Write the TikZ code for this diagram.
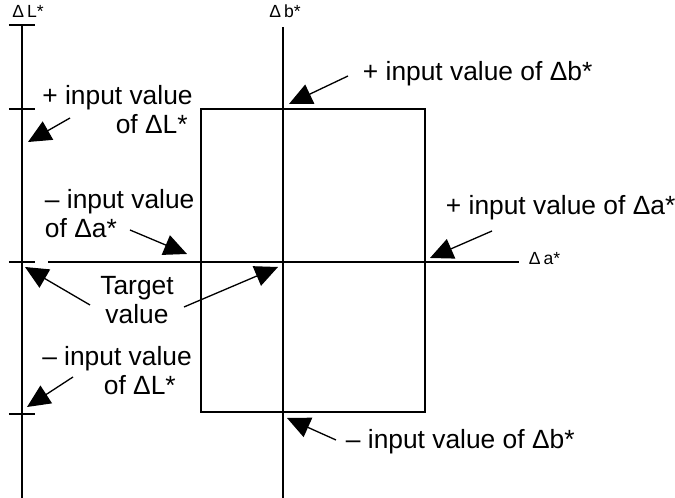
\documentclass[tikz,border=0pt]{standalone}
\usepackage{fontspec}
\setmainfont{Liberation Sans}
\usetikzlibrary{arrows.meta}

\begin{document}
\begin{tikzpicture}[line width=1.1pt,
  lbl/.style={font=\fontsize{15}{16.5}\selectfont, inner sep=0pt},
  axlbl/.style={font=\fontsize{10}{11}\selectfont, inner sep=0pt},
  ptr/.style={line width=0.75pt, -{Triangle[length=0.46cm, width=0.42cm]}}]
  \useasboundingbox (0,0) rectangle (13.5,9.96);
  % axes
  \coordinate (Lbot) at (0.44,0);
  \coordinate (Ltop) at (0.44,9.46);
  \coordinate (bbot) at (5.66,0);
  \coordinate (btop) at (5.66,9.42);
  \coordinate (aleft) at (0.96,4.72);
  \coordinate (aright) at (10.38,4.72);
  \draw (Lbot) -- (Ltop);
  \draw (bbot) -- (btop);
  \draw (aleft) -- (aright);
  \foreach \y in {9.46,7.78,4.72,1.68}
    \draw (0.18,\y) -- (0.70,\y);
  \draw (4.02,1.72) rectangle (8.50,7.78);
  \node[axlbl, anchor=base] (Lname) at (0.56,9.60) {Δ\,L*};
  \node[axlbl, anchor=base] (bname) at (5.70,9.60) {Δ\,b*};
  \node[axlbl, anchor=base west] (aname) at (10.56,4.66) {Δ\,a*};

  % labels
  \node[lbl, align=right] (plusL) at (2.35,7.76) {+ input value\\ of ΔL*\hspace*{0.1cm}};
  \node[lbl, anchor=base west] (plusb) at (7.24,8.34) {+ input value of Δb*};
  \node[lbl, align=left, anchor=west] (minusa) at (0.88,5.69) {– input value\\ of Δa*};
  \node[lbl, anchor=base west] (plusa) at (8.90,5.66) {+ input value of Δa*};
  \node[lbl, align=center] (target) at (2.74,3.96) {Target\\ value};
  \node[lbl, align=right] (minusL) at (2.34,2.54) {– input value\\ of ΔL*\hspace*{0.32cm}};
  \node[lbl, anchor=base west] (minusb) at (6.90,0.98) {– input value of Δb*};

  % pointers
  \coordinate (plusLtail) at (1.40,7.60);
  \coordinate (plusLtip) at (0.56,7.12);
  \coordinate (plusbtail) at (6.96,8.44);
  \coordinate (plusbtip) at (5.78,7.88);
  \coordinate (minusatail) at (2.60,5.36);
  \coordinate (minusatip) at (3.74,4.88);
  \coordinate (plusatail) at (9.84,5.34);
  \coordinate (plusatip) at (8.60,4.80);
  \coordinate (targettailA) at (1.80,3.86);
  \coordinate (targettipA) at (0.50,4.62);
  \coordinate (targettailB) at (3.68,3.82);
  \coordinate (targettipB) at (5.56,4.62);
  \coordinate (minusLtail) at (1.46,2.42);
  \coordinate (minusLtip) at (0.54,1.82);
  \coordinate (minusbtail) at (6.72,1.16);
  \coordinate (minusbtip) at (5.74,1.60);
  \draw[ptr] (plusLtail) -- (plusLtip);
  \draw[ptr] (plusbtail) -- (plusbtip);
  \draw[ptr] (minusatail) -- (minusatip);
  \draw[ptr] (plusatail) -- (plusatip);
  \draw[ptr] (targettailA) -- (targettipA);
  \draw[ptr] (targettailB) -- (targettipB);
  \draw[ptr] (minusLtail) -- (minusLtip);
  \draw[ptr] (minusbtail) -- (minusbtip);
\end{tikzpicture}
\end{document}
